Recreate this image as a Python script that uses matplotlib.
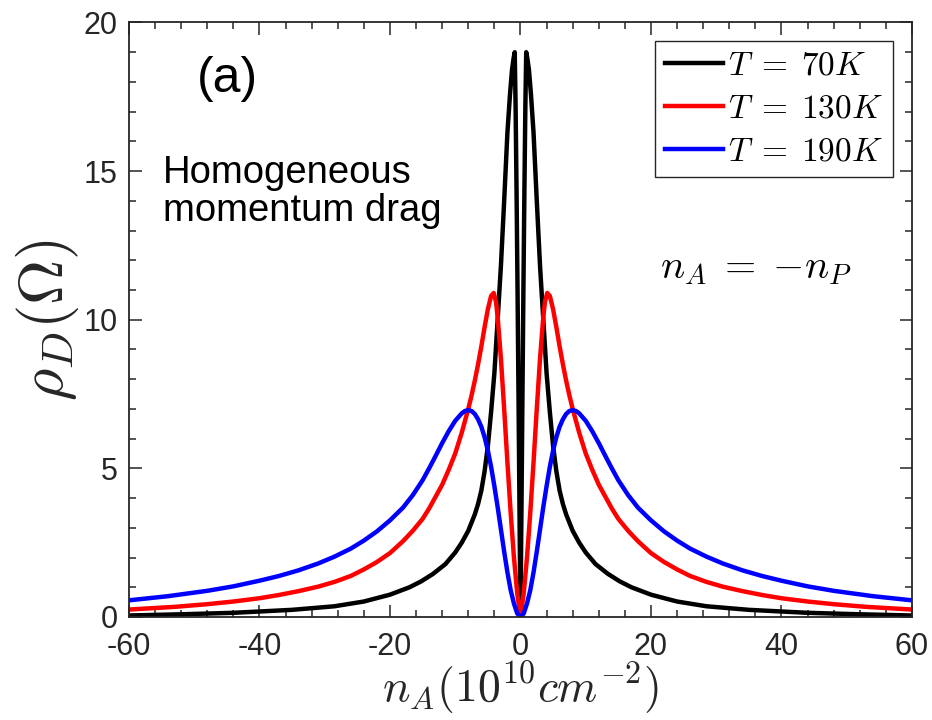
import numpy as np
import matplotlib
matplotlib.use("Agg")
import matplotlib.pyplot as plt
from matplotlib.ticker import MultipleLocator

plt.rcParams['font.family'] = ['Liberation Sans', 'DejaVu Sans']
plt.rcParams['mathtext.fontset'] = 'cm'
plt.rcParams['axes.unicode_minus'] = False

# data (n_A in 1e10 cm^-2, rho_D in Ohm)
x_70 = [-60, -52, -44, -35, -28.5, -24, -20, -17, -15.2, -13.4, -11.5, -10, -9, -8, -7, -6.5, -6, -5.5,
        -5, -4.5, -4, -3.5, -3, -2.5, -2, -1.6, -1.3, -1.05, -0.88, -0.75, -0.6, -0.45, -0.3, -0.15, 0,
        0.15, 0.3, 0.45, 0.6, 0.75, 0.88, 1.05, 1.3, 1.6, 2, 2.5, 3, 3.5, 4, 4.5, 5,
        5.5, 6, 6.5, 7, 8, 9, 10, 11.5, 13.4, 15.2, 17, 20, 24, 28.5, 35, 44, 52, 60]
rho_70 = [0.05, 0.09, 0.14, 0.24, 0.36, 0.52, 0.75, 1.0, 1.2, 1.45, 1.78, 2.17, 2.5, 2.9, 3.45, 3.8, 4.25, 4.9,
          5.75, 6.9, 8.2, 10.0, 11.8, 14.0, 16.3, 17.6, 18.4, 18.8, 19.0, 17.2, 14.3, 11.0, 7.4, 3.6, 0,
          3.6, 7.4, 11.0, 14.3, 17.2, 19.0, 18.8, 18.4, 17.6, 16.3, 14.0, 11.8, 10.0, 8.2, 6.9, 5.75,
          4.9, 4.25, 3.8, 3.45, 2.9, 2.5, 2.17, 1.78, 1.45, 1.2, 1.0, 0.75, 0.52, 0.36, 0.24, 0.14, 0.09, 0.05]

x_130 = [-60, -53, -48, -44, -40, -37, -34, -31, -28.5, -26, -24, -22, -20, -18, -16.5, -15, -14, -13,
         -12, -11, -10, -9, -8, -7.5, -7, -6.5, -6, -5.5, -5, -4.5, -4.1, -3.75, -3.5, -3, -2.5, -2,
         -1.5, -1, -0.5, 0,
         0.5, 1, 1.5, 2, 2.5, 3, 3.5, 3.75, 4.1, 4.5, 5, 5.5, 6, 6.5, 7, 7.5, 8, 9, 10, 11,
         12, 13, 14, 15, 16.5, 18, 20, 22, 24, 26, 28.5, 31, 34, 37, 40, 44, 48, 53, 60]
rho_130 = [0.25, 0.34, 0.43, 0.52, 0.63, 0.74, 0.87, 1.02, 1.18, 1.38, 1.6, 1.85, 2.15, 2.55, 2.9, 3.3, 3.65, 4.05,
           4.45, 4.95, 5.5, 6.2, 7.0, 7.45, 7.95, 8.5, 9.1, 9.75, 10.35, 10.8, 10.9, 10.6, 10.1, 8.7, 7.0, 5.2,
           3.5, 2.0, 0.8, 0,
           0.8, 2.0, 3.5, 5.2, 7.0, 8.7, 10.1, 10.6, 10.9, 10.8, 10.35, 9.75, 9.1, 8.5, 7.95, 7.45, 7.0, 6.2, 5.5, 4.95,
           4.45, 4.05, 3.65, 3.3, 2.9, 2.55, 2.15, 1.85, 1.6, 1.38, 1.18, 1.02, 0.87, 0.74, 0.63, 0.52, 0.43, 0.34, 0.25]

x_190 = [-60, -54, -48, -44, -40, -37, -34, -31, -28.5, -26, -24, -22, -20, -18, -16.5, -15, -14, -13,
         -12, -11, -10, -9, -8.5, -8, -7.5, -7, -6.5, -6, -5.5, -5, -4.5, -4, -3.5, -3, -2.5, -2,
         -1.5, -1, -0.5, 0,
         0.5, 1, 1.5, 2, 2.5, 3, 3.5, 4, 4.5, 5, 5.5, 6, 6.5, 7, 7.5, 8, 8.5, 9, 10, 11,
         12, 13, 14, 15, 16.5, 18, 20, 22, 24, 26, 28.5, 31, 34, 37, 40, 44, 48, 54, 60]
rho_190 = [0.56, 0.7, 0.88, 1.03, 1.22, 1.38, 1.57, 1.8, 2.03, 2.3, 2.57, 2.88, 3.25, 3.68, 4.1, 4.6, 5.0, 5.42,
           5.85, 6.25, 6.6, 6.85, 6.93, 6.96, 6.93, 6.83, 6.65, 6.4, 6.05, 5.6, 5.05, 4.4, 3.7, 2.95, 2.2, 1.5,
           0.9, 0.45, 0.12, 0,
           0.12, 0.45, 0.9, 1.5, 2.2, 2.95, 3.7, 4.4, 5.05, 5.6, 6.05, 6.4, 6.65, 6.83, 6.93, 6.96, 6.93, 6.85, 6.6, 6.25,
           5.85, 5.42, 5.0, 4.6, 4.1, 3.68, 3.25, 2.88, 2.57, 2.3, 2.03, 1.8, 1.57, 1.38, 1.22, 1.03, 0.88, 0.7, 0.56]

labels = [r'$T\;=\;70K$', r'$T\;=\;130K$', r'$T\;=\;190K$']
colors = ['black', 'red', 'blue']
xticks = [-60, -40, -20, 0, 20, 40, 60]
yticks = [0, 5, 10, 15, 20]

fig = plt.figure(figsize=(9.32, 7.2), dpi=100)
ax = fig.add_axes([0.1384, 0.1431, 0.8401, 0.8257])

for xs, ys, c, lab in zip([x_70, x_130, x_190], [rho_70, rho_130, rho_190], colors, labels):
    ax.plot(xs, ys, color=c, lw=3.2, label=lab, solid_joinstyle='round')

ax.set_xlim(-60, 60)
ax.set_ylim(0, 20)
ax.set_xticks(xticks)
ax.set_yticks(yticks)
ax.xaxis.set_minor_locator(MultipleLocator(4))
ax.yaxis.set_minor_locator(MultipleLocator(1))
dark = '#262626'
ax.tick_params(which='both', direction='in', top=True, right=True, colors=dark,
               labelsize=22, width=1.1)
ax.tick_params(which='major', length=9)
ax.tick_params(axis='x', which='major', pad=11)
ax.tick_params(axis='y', which='major', pad=8)
ax.tick_params(which='minor', length=5)
for s in ax.spines.values():
    s.set_color(dark)
    s.set_linewidth(1.3)

ax.set_xlabel(r'$n_A(10^{10}cm^{-2})$', fontsize=33, color=dark, labelpad=-2)
ax.set_ylabel(r'$\rho_D(\Omega)$', fontsize=45, color=dark, labelpad=2)

ax.text(0.126, 0.905, '(a)', transform=ax.transAxes, fontsize=36, ha='center', va='center')
ax.text(0.043, 0.715, 'Homogeneous\nmomentum drag', transform=ax.transAxes, fontsize=27.5,
        ha='left', va='center', linespacing=1.05)
ax.text(0.8, 0.587, r'$n_A\;=\;{-}n_P$', transform=ax.transAxes, fontsize=29, ha='center', va='center')

leg = ax.legend(loc='upper right', bbox_to_anchor=(0.9757, 0.9689), borderaxespad=0,
                fontsize=24, handlelength=1.75, handletextpad=0.15, labelspacing=0.35,
                borderpad=0.3, fancybox=False, framealpha=1, edgecolor=dark)
leg.get_frame().set_linewidth(1.0)

fig.savefig('out.png', dpi=100, facecolor='white')
